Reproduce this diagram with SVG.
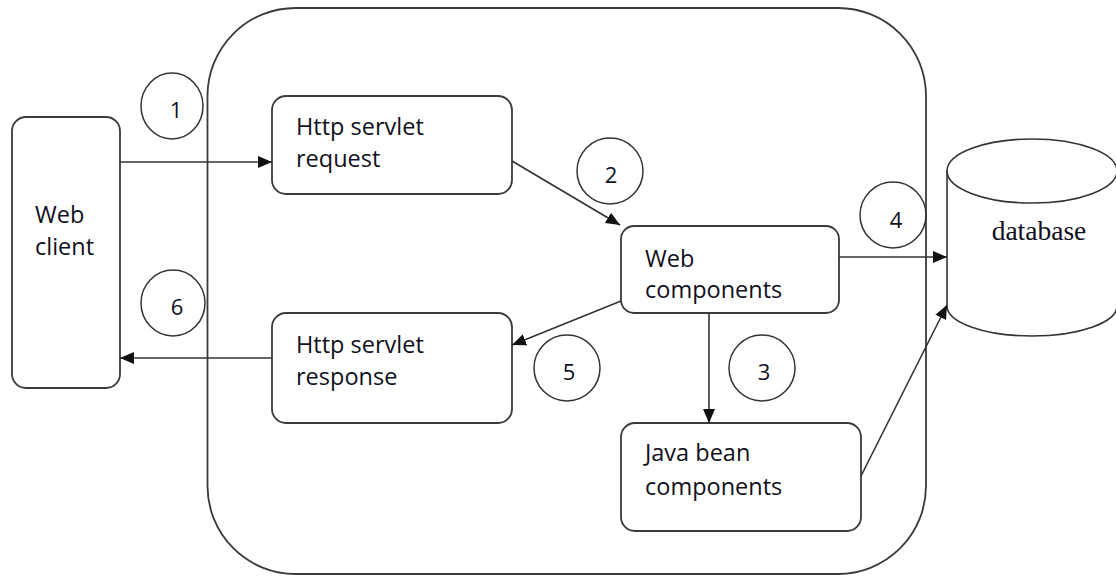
<svg xmlns="http://www.w3.org/2000/svg" width="1116" height="576" viewBox="0 0 1116 576">
  <defs>
    <style>
      .box { fill: #ffffff; stroke: #3a3a3a; stroke-width: 1.8; }
      .line { fill: none; stroke: #333333; stroke-width: 1.6; }
      .num { fill: none; stroke: #333333; stroke-width: 1.5; }
      .lbl { font-family: "Open Sans", "Liberation Sans", sans-serif; font-size: 23.5px; fill: #10101c; }
      .n { font-family: "Open Sans", "Liberation Sans", sans-serif; font-size: 22px; fill: #10101c; text-anchor: middle; }
      .db { font-family: "Liberation Serif", serif; font-size: 27.5px; fill: #10101c; text-anchor: middle; }
    </style>
    <marker id="arr" markerUnits="userSpaceOnUse" markerWidth="14" markerHeight="12" viewBox="0 0 14 12" refX="14" refY="6" orient="auto">
      <path d="M0,0 L14,6 L0,12 Z" fill="#111111"/>
    </marker>
  </defs>
  <rect width="1116" height="576" fill="#ffffff"/>

  <g id="container">
    <rect x="207.5" y="8" width="718.5" height="566" rx="88" ry="88" fill="none" stroke="#3a3a3a" stroke-width="1.8"/>
  </g>

  <g id="web-client">
    <rect class="box" x="12" y="117" width="108" height="271" rx="14"/>
    <text class="lbl" x="35" y="223">Web</text>
    <text class="lbl" x="35" y="255">client</text>
  </g>

  <g id="http-request">
    <rect class="box" x="272" y="96" width="240" height="98" rx="14"/>
    <text class="lbl" x="296" y="135">Http servlet</text>
    <text class="lbl" x="296" y="167">request</text>
  </g>

  <g id="http-response">
    <rect class="box" x="272" y="313" width="240" height="110" rx="14"/>
    <text class="lbl" x="296" y="353">Http servlet</text>
    <text class="lbl" x="296" y="385">response</text>
  </g>

  <g id="web-components">
    <rect class="box" x="621" y="226" width="218" height="87" rx="13"/>
    <text class="lbl" x="645" y="267">Web</text>
    <text class="lbl" x="645" y="298">components</text>
  </g>

  <g id="java-bean">
    <rect class="box" x="621" y="423" width="240" height="108" rx="14"/>
    <text class="lbl" x="645" y="461">Java bean</text>
    <text class="lbl" x="645" y="495">components</text>
  </g>

  <g id="database">
    <path d="M947,171 L947,306 A85,30 0 0 0 1117,306 L1117,171" fill="#ffffff" stroke="#333333" stroke-width="1.6"/>
    <ellipse cx="1032" cy="171" rx="85" ry="32" fill="#ffffff" stroke="#333333" stroke-width="1.6"/>
    <text class="db" x="1039" y="240">database</text>
  </g>

  <g id="connectors">
    <line class="line" x1="120" y1="162" x2="272" y2="162" marker-end="url(#arr)"/>
    <line class="line" x1="512" y1="161" x2="620" y2="225" marker-end="url(#arr)"/>
    <line class="line" x1="709" y1="313" x2="709" y2="423" marker-end="url(#arr)"/>
    <line class="line" x1="839" y1="257" x2="947" y2="257" marker-end="url(#arr)"/>
    <line class="line" x1="861" y1="476" x2="947" y2="305" marker-end="url(#arr)"/>
    <line class="line" x1="621" y1="301" x2="512" y2="345" marker-end="url(#arr)"/>
    <line class="line" x1="272" y1="358" x2="120" y2="358" marker-end="url(#arr)"/>
  </g>

  <g id="step-1">
    <ellipse class="num" cx="172" cy="106" rx="31" ry="33"/>
    <text class="n" x="176" y="118">1</text>
  </g>
  <g id="step-2">
    <ellipse class="num" cx="610" cy="171" rx="33" ry="33"/>
    <text class="n" x="611" y="183">2</text>
  </g>
  <g id="step-3">
    <ellipse class="num" cx="762" cy="368" rx="33" ry="33"/>
    <text class="n" x="764" y="380">3</text>
  </g>
  <g id="step-4">
    <ellipse class="num" cx="893" cy="215" rx="33" ry="33"/>
    <text class="n" x="896" y="228">4</text>
  </g>
  <g id="step-5">
    <ellipse class="num" cx="567" cy="368" rx="33" ry="33"/>
    <text class="n" x="569" y="380">5</text>
  </g>
  <g id="step-6">
    <ellipse class="num" cx="173" cy="303" rx="32" ry="33"/>
    <text class="n" x="177" y="315">6</text>
  </g>
</svg>
